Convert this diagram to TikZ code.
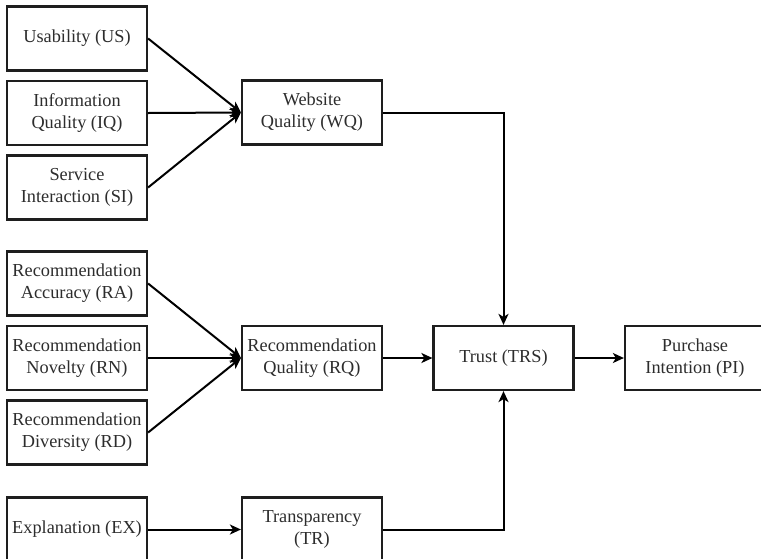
\documentclass[tikz,border=0pt]{standalone}
\usepackage{fontspec}
\setmainfont{Liberation Serif}
\usetikzlibrary{arrows.meta}
\definecolor{edge}{RGB}{30,30,30}
\definecolor{ink}{RGB}{45,45,45}
\tikzset{
  box/.style={draw=edge, line width=2.2pt, fill=white, text=ink,
    minimum width=140pt, minimum height=64pt, inner sep=0pt,
    align=center, font=\fontsize{18.3}{22}\selectfont},
  link/.style={draw=black, line width=2pt,
    -{Stealth[length=11pt, width=10pt, inset=3pt]}}
}
\begin{document}
\begin{tikzpicture}[x=1pt, y=-1pt]
\useasboundingbox (0,0) rectangle (761,558);
\clip (0,0) rectangle (761,558);
% inputs of website quality
\node[box] (us) at (77,38.5) {Usability (US)};
\node[box] (iq) at (77,113) {Information\\Quality (IQ)};
\node[box] (si) at (77,187.5) {Service\\Interaction (SI)};
% inputs of recommendation quality
\node[box] (ra) at (77,283.5) {Recommendation\\Accuracy (RA)};
\node[box] (rn) at (77,358) {Recommendation\\Novelty (RN)};
\node[box] (rd) at (77,432.5) {Recommendation\\Diversity (RD)};
% explanation
\node[box] (ex) at (77,529.5) {Explanation (EX)};
% middle layer
\node[box] (wq) at (312,112.5) {Website\\Quality (WQ)};
\node[box] (rq) at (312,358) {Recommendation\\Quality (RQ)};
\node[box] (tr) at (312,529.5) {Transparency\\(TR)};
% trust and outcome
\node[box] (trs) at (503.5,358) {Trust (TRS)};
\node[box] (pi) at (695,358) {Purchase\\Intention (PI)};
% connectors
\draw[link] (us.east) -- (wq.west);
\draw[link] (iq.east) -- (wq.west);
\draw[link] (si.east) -- (wq.west);
\draw[link] (ra.east) -- (rq.west);
\draw[link] (rn.east) -- (rq.west);
\draw[link] (rd.east) -- (rq.west);
\draw[link] (ex.east) -- (tr.west);
\draw[link] (wq.east) -| (trs.north);
\draw[link] (rq.east) -- (trs.west);
\draw[link] (tr.east) -| (trs.south);
\draw[link] (trs.east) -- (pi.west);
\end{tikzpicture}
\end{document}
